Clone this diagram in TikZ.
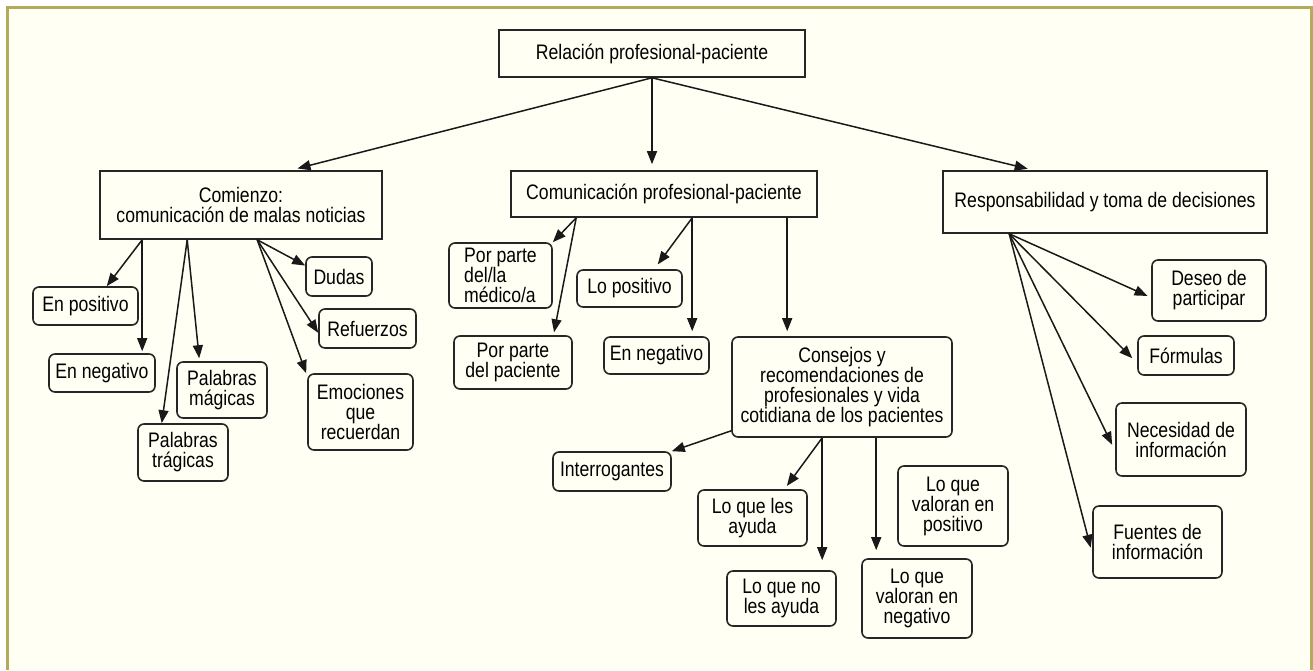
\documentclass[tikz,border=0pt]{standalone}
\usepackage{fontspec}
\setmainfont{Liberation Sans}[FakeStretch=0.84]
\usetikzlibrary{arrows.meta,calc}

\definecolor{frameolive}{RGB}{180,170,92}
\definecolor{paper}{RGB}{255,255,243}

\begin{document}
\begin{tikzpicture}[
x=1pt, y=-1pt,
>={Triangle[length=13pt,width=10pt]},
font=\fontsize{21}{20}\selectfont,
link/.style={->, line width=1.5pt, black!90},
box/.style={%
    rectangle,
    draw=black!85,
    line width=1.6pt,
    fill=paper,
    align=center,
    inner sep=2pt,
},
rounded/.style={%
    box,
    rounded corners=6pt,
},
wh/.style 2 args={minimum width=#1pt, minimum height=#2pt},
]
\useasboundingbox (0,0) rectangle (1313,670);

% Frame
\fill[paper] (7,7) rectangle (1313,670);
\draw[frameolive, line width=3pt] (7,670) -- (7,7) -- (1311.5,7) -- (1311.5,670);

% Nodes
\node[box, wh={306}{47}]      at (652,53.5)    (root)      {Relación profesional-paciente};
\node[box, wh={282}{68}]      at (241,205)     (comienzo)  {Comienzo:\\comunicación de malas noticias};
\node[box, wh={306}{46}]      at (664,194)     (comunic)   {Comunicación profesional-paciente};
\node[box, wh={324}{62}]      at (1105,202)    (resp)      {Responsabilidad y toma de decisiones};

\node[rounded, wh={105}{38}]  at (85.5,306)    (enpos)     {En positivo};
\node[rounded, wh={66}{39}]   at (339,276.5)   (dudas)     {Dudas};
\node[rounded, wh={97}{39}]   at (367.5,328.5) (refuerzos) {Refuerzos};
\node[rounded, wh={106}{38}]  at (102,373)     (enneg)     {En negativo};
\node[rounded, wh={90}{56}]   at (222,390)     (magicas)   {Palabras\\mágicas};
\node[rounded, wh={90}{57}]   at (183,452.5)   (tragicas)  {Palabras\\trágicas};
\node[rounded, wh={105}{76}]  at (360.5,412)   (emociones) {Emociones\\que\\recuerdan};

\node[rounded, wh={103}{65}, align=left] at (500.5,275.5) (medico) {Por parte\\del/la\\médico/a};
\node[rounded, wh={118}{53}]  at (513,362.5)   (paciente)  {Por parte\\del paciente};
\node[rounded, wh={105}{37}]  at (629.5,288.5) (lopos)     {Lo positivo};
\node[rounded, wh={105}{37}]  at (656.5,355.5) (loneg)     {En negativo};
\node[rounded, wh={220}{100}] at (842,387)     (consejos)  {Consejos y\\recomendaciones de\\profesionales y vida\\cotidiana de los pacientes};

\node[rounded, wh={118}{39}]  at (612,471.5)   (interrog)  {Interrogantes};
\node[rounded, wh={109}{56}]  at (752.5,518)   (ayuda)     {Lo que les\\ayuda};
\node[rounded, wh={109}{55}]  at (781.5,598.5) (noayuda)   {Lo que no\\les ayuda};
\node[rounded, wh={110}{80}]  at (953,506)     (valpos)    {Lo que\\valoran en\\positivo};
\node[rounded, wh={110}{79}]  at (917,598.5)   (valneg)    {Lo que\\valoran en\\negativo};

\node[rounded, wh={114}{61}]  at (1209,290.5)  (deseo)     {Deseo de\\participar};
\node[rounded, wh={96}{39}]   at (1186,355.5)  (formulas)  {Fórmulas};
\node[rounded, wh={130}{73}]  at (1181,439.5)  (necesidad) {Necesidad de\\información};
\node[rounded, wh={129}{72}]  at (1157.5,542)  (fuentes)   {Fuentes de\\información};

% Start points
\coordinate (comA) at ([xshift=43pt]comienzo.south west);
\coordinate (comB) at ([xshift=88pt]comienzo.south west);
\coordinate (comC) at ([xshift=158pt]comienzo.south west);
\coordinate (cpA)  at ([xshift=66pt]comunic.south west);
\coordinate (cpB)  at ([xshift=182pt]comunic.south west);
\coordinate (cpC)  at ([xshift=277pt]comunic.south west);
\coordinate (cnW)  at ([yshift=7pt]consejos.south west);
\coordinate (cnA)  at ([xshift=91pt]consejos.south west);
\coordinate (cnB)  at ([xshift=145pt]consejos.south west);
\coordinate (rsA)  at ([xshift=67pt]resp.south west);

% Lines
\draw[link, shorten >=7pt] (root.south) -- (comienzo.35);
\draw[link, shorten >=6pt] (root.south) -- (comunic.north -| root.south);
\draw[link, shorten >=6pt] (root.south) -- (resp.156);

\draw[link] (comA) -- (enpos.43);
\draw[link, shorten >=2pt] (comA) -- (enneg.north -| comA);
\draw[link] (comB) -- (tragicas.126);
\draw[link, shorten >=3pt] (comB) -- (magicas.128);
\draw[link] (comC) -- (dudas.162);
\draw[link] (comC) -- (refuerzos.185);
\draw[link, shorten >=3pt] (comC) -- (emociones.146);

\draw[link] (cpA) -- (medico.north east);
\draw[link, shorten >=3pt] (cpA) -- (paciente.34);
\draw[link, shorten >=6pt] (cpB) -- (lopos.38);
\draw[link, shorten >=5pt] (cpB) -- (loneg.north -| cpB);
\draw[link, shorten >=5pt] (cpC) -- (consejos.north -| cpC);

\draw[link] (cnW) -- (interrog.north east);
\draw[link, shorten >=4pt] (cnA) -- (ayuda.42);
\draw[link, shorten >=10pt] (cnA) -- (noayuda.north -| cnA);
\draw[link, shorten >=8pt] (cnB) -- (valneg.north -| cnB);

\draw[link, shorten >=4pt] (rsA) -- (deseo.187);
\draw[link, shorten >=7pt] (rsA) -- (formulas.189);
\draw[link, shorten >=7pt] (rsA) -- (necesidad.190);
\draw[link, shorten >=6pt] (rsA) -- (fuentes.190);
\end{tikzpicture}
\end{document}
